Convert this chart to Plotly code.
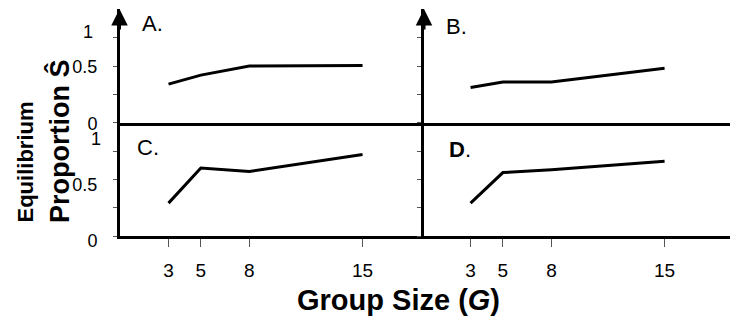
import plotly.graph_objects as go

# ---- data ----
group_size = [3, 5, 8, 15]
panel_A = [0.34, 0.42, 0.50, 0.505]
panel_B = [0.31, 0.36, 0.36, 0.48]
panel_C = [0.29, 0.60, 0.57, 0.72]
panel_D = [0.29, 0.56, 0.585, 0.66]
x_ticks = [3, 5, 8, 15]
y_ticks_low = [0, 0.5]
y_ticks_low_text = ["0", "0.5"]
y_ticks_top = [1]
y_ticks_top_text = ["1"]
panel_letters = ["A.", "B.", "C.", "<b>D</b>."]

W, H = 738, 322
PAGE_OFFSET = 8  # default body margin of the html page
FONT = "Liberation Sans, Arial, sans-serif"

def px_x(p):
    return (p - PAGE_OFFSET) / W

def px_y(p):
    return (H - (p - PAGE_OFFSET)) / H

left_dom = [px_x(120), px_x(424)]
right_dom = [px_x(424), px_x(738)]
low_dom = [px_y(236), px_y(122.7)]
up_dom = [px_y(122.7), px_y(9.4)]

fig = go.Figure()

series = [
    (panel_A, "x", "y"),
    (panel_B, "x2", "y2"),
    (panel_C, "x3", "y3"),
    (panel_D, "x4", "y4"),
]
for vals, xa, ya in series:
    fig.add_trace(go.Scatter(x=group_size, y=vals, xaxis=xa, yaxis=ya,
                             mode="lines", line=dict(color="black", width=3),
                             showlegend=False, hoverinfo="skip"))

# empty traces that register the overlay axes carrying the "1" labels
for xa, ya in (("x", "y5"), ("x3", "y6")):
    fig.add_trace(go.Scatter(x=[], y=[], xaxis=xa, yaxis=ya, mode="lines",
                             showlegend=False, hoverinfo="skip"))

xtickfont = dict(family=FONT, size=19, color="black")
ytickfont = dict(family=FONT, size=18, color="black")
LW = 3

def xaxis(domain, anchor, rng, bottom):
    d = dict(domain=domain, anchor=anchor, range=rng, showline=True,
             linewidth=LW, linecolor="black", showgrid=False, zeroline=False,
             automargin=False)
    if bottom:
        d.update(tickmode="array", tickvals=x_ticks, ticks="outside",
                 ticklen=8, tickwidth=1, tickcolor="#555",
                 tickfont=xtickfont, ticklabelstandoff=7)
    else:
        d.update(showticklabels=False, ticks="")
    return d

def yaxis(domain, anchor, labels, shift):
    d = dict(domain=domain, anchor=anchor, range=[0, 1], showline=True,
             linewidth=LW, linecolor="black", showgrid=False, zeroline=False,
             automargin=False,
             tickmode="array", tickvals=y_ticks_low, ticktext=y_ticks_low_text,
             ticks="outside", ticklen=4, tickwidth=1, tickcolor="#555",
             minor=dict(tickvals=[0.25, 0.75], ticks="outside", ticklen=4,
                        tickwidth=1, tickcolor="#555", showgrid=False),
             tickfont=ytickfont, showticklabels=labels)
    if labels:
        d.update(ticklabelstandoff=12, ticklabelshift=shift,
                 ticklabeloverflow="allow")
    return d

def label_axis(over, anchor, shift, standoff):
    # carries only the "1" tick label of a panel, placed like the reference
    return dict(overlaying=over, anchor=anchor, side="left", range=[0, 1],
                showline=False, showgrid=False, zeroline=False, ticks="",
                automargin=False, tickmode="array", tickvals=y_ticks_top,
                ticktext=y_ticks_top_text, tickfont=ytickfont,
                ticklabelstandoff=standoff, ticklabelshift=shift,
                ticklabeloverflow="allow")

fig.update_layout(
    width=W, height=H,
    margin=dict(l=0, r=0, t=0, b=0, autoexpand=False),
    paper_bgcolor="white", plot_bgcolor="white",
    font=dict(family=FONT, color="black"),
    xaxis=xaxis(left_dom, "y", [0, 18.8], False),
    yaxis=yaxis(up_dom, "x", True, 1),
    xaxis2=xaxis(right_dom, "y2", [0.12, 19.54], False),
    yaxis2=yaxis(up_dom, "x2", False, 0),
    xaxis3=xaxis(left_dom, "y3", [0, 18.8], True),
    yaxis3=yaxis(low_dom, "x3", True, 5),
    xaxis4=xaxis(right_dom, "y4", [0.12, 19.54], True),
    yaxis4=yaxis(low_dom, "x4", False, 0),
    yaxis5=label_axis("y", "x", 22, 26),
    yaxis6=label_axis("y3", "x3", 16, 18),
)

# arrow heads on the upper vertical axes
for xp in (119.5, 424):
    fig.add_annotation(x=px_x(xp), y=px_y(9), xref="paper", yref="paper",
                       ax=0, ay=22, text="",
                       showarrow=True, arrowhead=2, arrowsize=1.1,
                       arrowwidth=3, arrowcolor="black", standoff=0)

# panel letters
for (txt, xp, yp) in zip(panel_letters, [152, 456, 148, 460], [24, 27, 147, 149]):
    fig.add_annotation(x=px_x(xp), y=px_y(yp), xref="paper", yref="paper",
                       text=txt, showarrow=False, xanchor="center", yanchor="middle",
                       font=dict(family=FONT, size=22, color="black"))

# axis titles
fig.add_annotation(x=px_x(398), y=px_y(300), xref="paper", yref="paper",
                   text="<b>Group Size (<i>G</i>)</b>", showarrow=False,
                   xanchor="center", yanchor="middle",
                   font=dict(family=FONT, size=29, color="black"))
fig.add_annotation(x=px_x(25), y=px_y(225), xref="paper", yref="paper",
                   text="<b>Equilibrium</b>", textangle=-90, showarrow=False,
                   xanchor="center", yanchor="bottom",
                   font=dict(family=FONT, size=22, color="black"))
fig.add_annotation(x=px_x(59), y=px_y(225), xref="paper", yref="paper",
                   text="<b>Proportion Ŝ</b>", textangle=-90, showarrow=False,
                   xanchor="center", yanchor="bottom",
                   font=dict(family=FONT, size=27, color="black"))

fig.write_html("out.html")
